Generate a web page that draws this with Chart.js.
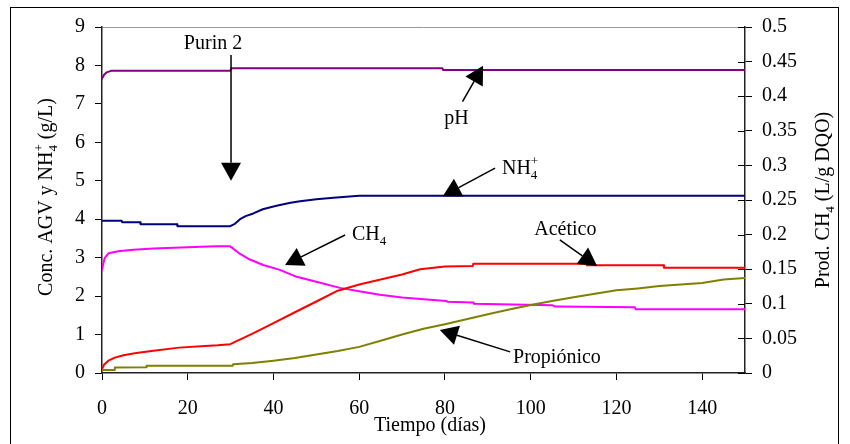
<!DOCTYPE html>
<html>
<head>
<meta charset="utf-8">
<title>Purin 2</title>
<script src="https://cdn.jsdelivr.net/npm/chart.js@4.4.1/dist/chart.umd.min.js"></script>
<style>
  html, body { margin: 0; padding: 0; background: #fff; }
  #wrap { width: 850px; height: 444px; }
</style>
</head>
<body>
<div id="wrap"><canvas id="chart" width="850" height="444"></canvas></div>
<script>
'use strict';

// ---- data ----
var phDays = [0, 0.5, 1.1, 2.1, 29.9, 30.2, 79.4, 79.6, 150];
var phVals = [7.66, 7.76, 7.82, 7.86, 7.86, 7.93, 7.93, 7.88, 7.88];

var nh4Days = [0, 4.6, 4.7, 8.9, 9, 17.5, 17.6, 29.9, 31, 32.2, 33.5, 35.3, 37.5, 40, 41.5, 44, 46.2, 50, 54, 60, 150];
var nh4Vals = [3.96, 3.96, 3.92, 3.92, 3.87, 3.87, 3.82, 3.82, 3.88, 4.0, 4.08, 4.15, 4.26, 4.33, 4.37, 4.43, 4.47, 4.52, 4.56, 4.61, 4.61];

// CH4 production, right axis (L/g DQO)
var ch4Days = [0, 0.6, 1.5, 3.8, 7.3, 12, 26.4, 29.9, 32, 34.5, 37.6, 41.5, 45.4, 50, 55.5, 60, 64.8, 70, 76.5, 80.4, 80.5, 86.6, 86.7, 105, 105.7, 124.3, 124.5, 150];
var ch4Vals = [0.149, 0.166, 0.173, 0.176, 0.178, 0.180, 0.183, 0.183, 0.173, 0.164, 0.156, 0.149, 0.139, 0.132, 0.123, 0.118, 0.113, 0.109, 0.106, 0.104, 0.103, 0.102, 0.100, 0.098, 0.096, 0.095, 0.092, 0.092];

var aceDays = [0, 0.5, 1.5, 3, 5, 8, 12, 18, 24, 27, 29.9, 35, 40, 45, 50, 55, 60, 65, 70, 74.2, 80, 86.5, 86.6, 113, 113.1, 131, 131.1, 150];
var aceVals = [0.1, 0.22, 0.32, 0.4, 0.46, 0.52, 0.58, 0.66, 0.7, 0.72, 0.75, 1.02, 1.3, 1.58, 1.86, 2.14, 2.3, 2.43, 2.56, 2.7, 2.77, 2.78, 2.84, 2.84, 2.80, 2.80, 2.74, 2.74];

var proDays = [0, 2.9, 3, 10.3, 10.4, 30.5, 30.6, 35, 40, 45, 50, 55, 60, 65, 70, 75, 80, 85, 90, 95, 100, 105, 110, 115, 120, 125, 130, 135, 140, 145, 150];
var proVals = [0.08, 0.08, 0.14, 0.15, 0.19, 0.19, 0.23, 0.26, 0.32, 0.39, 0.48, 0.57, 0.68, 0.84, 1.0, 1.15, 1.27, 1.4, 1.53, 1.65, 1.77, 1.87, 1.97, 2.06, 2.15, 2.2, 2.26, 2.3, 2.34, 2.43, 2.47];

// annotations: text anchor and arrow, in (day, left-axis value)
var notes = [
  { parts: [{ t: 'Purin 2' }], x: 25.9, y: 8.43, align: 'center', from: [30.1, 8.27], to: [30.1, 5.0] },
  { parts: [{ t: 'pH' }], x: 82.7, y: 6.48, align: 'center', from: [84.1, 7.06], to: [88.9, 7.99] },
  { parts: [{ t: 'NH' }, { t: '4', k: 'sub' }, { t: '+', k: 'sup' }], x: 93.3, y: 5.18, align: 'left', from: [91.7, 5.33], to: [79.5, 4.6] },
  { parts: [{ t: 'CH' }, { t: '4', k: 'sub' }], x: 58.3, y: 3.46, align: 'left', from: [56.7, 3.59], to: [42.7, 2.81] },
  { parts: [{ t: 'Acético' }], x: 108.1, y: 3.59, align: 'center', from: [106.8, 3.46], to: [115.5, 2.78] },
  { parts: [{ t: 'Propiónico' }], x: 95.9, y: 0.26, align: 'left', from: [95.2, 0.55], to: [78.8, 1.12] }
];

var FONT = '"Liberation Serif", "Times New Roman", serif';
var BIG = 20, SMALL = 13;

function pts(days, vals) {
  return days.map(function (d, i) { return { x: d, y: vals[i] }; });
}

function series(label, days, vals, color, axis) {
  return {
    label: label, data: pts(days, vals), yAxisID: axis,
    borderColor: color, backgroundColor: color,
    borderWidth: 2, borderJoinStyle: 'round', borderCapStyle: 'round',
    pointRadius: 0, tension: 0, fill: false
  };
}

// text with sub/superscripts; a sup right after a sub is stacked over it
function layoutRich(ctx, parts) {
  var x = 0, prevStart = 0, prevW = 0, prevK = null, items = [];
  parts.forEach(function (p) {
    var k = p.k || 'n';
    ctx.font = (k === 'n' ? BIG : SMALL) + 'px ' + FONT;
    var w = ctx.measureText(p.t).width;
    var px = x;
    if (k === 'sup' && prevK === 'sub') { px = prevStart; x = prevStart + Math.max(prevW, w); }
    else x = px + w;
    items.push({ t: p.t, k: k, x: px });
    prevStart = px; prevW = w; prevK = k;
  });
  return { items: items, width: x };
}

function drawRich(ctx, parts, x, y, align) {
  var lay = layoutRich(ctx, parts);
  var x0 = align === 'center' ? x - lay.width / 2 : x;
  ctx.textAlign = 'left';
  ctx.textBaseline = 'alphabetic';
  ctx.fillStyle = '#000';
  lay.items.forEach(function (it) {
    ctx.font = (it.k === 'n' ? BIG : SMALL) + 'px ' + FONT;
    var dy = it.k === 'sub' ? 5 : it.k === 'sup' ? -9 : 0;
    ctx.fillText(it.t, x0 + it.x, y + dy);
  });
}

function arrow(ctx, x1, y1, x2, y2) {
  var ang = Math.atan2(y2 - y1, x2 - x1);
  var len = 18, half = 10;
  var bx = x2 - len * Math.cos(ang), by = y2 - len * Math.sin(ang);
  ctx.strokeStyle = '#000';
  ctx.lineWidth = 1.5;
  ctx.beginPath(); ctx.moveTo(x1, y1); ctx.lineTo(bx, by); ctx.stroke();
  ctx.fillStyle = '#000';
  ctx.beginPath();
  ctx.moveTo(x2, y2);
  ctx.lineTo(bx + half * Math.sin(ang), by - half * Math.cos(ang));
  ctx.lineTo(bx - half * Math.sin(ang), by + half * Math.cos(ang));
  ctx.closePath(); ctx.fill();
}

var extras = {
  id: 'extras',
  afterDraw: function (chart) {
    var ctx = chart.ctx, sx = chart.scales.x, sy = chart.scales.y, sr = chart.scales.y1;
    var area = chart.chartArea;
    ctx.save();

    // outer frame
    ctx.strokeStyle = '#000'; ctx.lineWidth = 1;
    ctx.strokeRect(10.5, 7.5, 828, 460);

    // right axis ticks cross the axis line
    ctx.strokeStyle = '#000'; ctx.lineWidth = 1;
    sr.ticks.forEach(function (t) {
      var py = Math.round(sr.getPixelForValue(t.value)) + 0.5;
      ctx.beginPath(); ctx.moveTo(area.right - 7, py); ctx.lineTo(area.right, py); ctx.stroke();
    });

    // axis titles
    ctx.save(); ctx.translate(52, 197); ctx.rotate(-Math.PI / 2);
    drawRich(ctx, [{ t: 'Conc. AGV y NH' }, { t: '4', k: 'sub' }, { t: '+', k: 'sup' }, { t: ' (g/L)' }], 0, 0, 'center');
    ctx.restore();
    ctx.save(); ctx.translate(829, 200); ctx.rotate(-Math.PI / 2);
    drawRich(ctx, [{ t: 'Prod. CH' }, { t: '4', k: 'sub' }, { t: ' (L/g DQO)' }], 0, 0, 'center');
    ctx.restore();
    drawRich(ctx, [{ t: 'Tiempo (días)' }], 430, 431, 'center');

    // annotations
    notes.forEach(function (n) {
      drawRich(ctx, n.parts, sx.getPixelForValue(n.x), sy.getPixelForValue(n.y), n.align);
      arrow(ctx, sx.getPixelForValue(n.from[0]), sy.getPixelForValue(n.from[1]),
                 sx.getPixelForValue(n.to[0]), sy.getPixelForValue(n.to[1]));
    });
    ctx.restore();
  }
};

var tickFont = { family: FONT, size: BIG };

new Chart(document.getElementById('chart'), {
  type: 'line',
  data: {
    datasets: [
      series('Propiónico', proDays, proVals, '#808000', 'y'),
      series('Acético', aceDays, aceVals, '#FF0000', 'y'),
      series('CH4', ch4Days, ch4Vals, '#FF00FF', 'y1'),
      series('NH4+', nh4Days, nh4Vals, '#000080', 'y'),
      series('pH', phDays, phVals, '#800080', 'y')
    ]
  },
  options: {
    responsive: false,
    animation: false,
    devicePixelRatio: 1,
    layout: { padding: { top: 27, left: 0, right: 0, bottom: 0 } },
    plugins: { legend: { display: false }, tooltip: { enabled: false } },
    scales: {
      x: {
        type: 'linear', min: 0, max: 150,
        ticks: { stepSize: 20, includeBounds: false, font: tickFont, color: '#000', padding: 17, maxRotation: 0 },
        grid: { drawOnChartArea: false, tickColor: '#000', tickLength: 7 },
        border: { color: '#222', width: 1.5 },
        afterFit: function (s) { s.height = 71; }
      },
      y: {
        position: 'left', min: 0, max: 9,
        ticks: { stepSize: 1, font: tickFont, color: '#000', padding: 10 },
        grid: {
          color: function (c) { return c.tick && c.tick.value === 9 ? '#999' : 'rgba(0,0,0,0)'; },
          tickColor: '#000', tickLength: 7
        },
        border: { color: '#222', width: 1.5 },
        afterFit: function (s) { s.width = 102; }
      },
      y1: {
        position: 'right', min: 0, max: 0.5,
        ticks: {
          stepSize: 0.05, font: tickFont, color: '#000', padding: 10,
          callback: function (v) { return String(+v.toFixed(2)); }
        },
        grid: { drawOnChartArea: false, tickColor: '#000', tickLength: 7 },
        border: { color: '#222', width: 1.5 },
        afterFit: function (s) { s.width = 105; }
      }
    }
  },
  plugins: [extras]
});
</script>
</body>
</html>
